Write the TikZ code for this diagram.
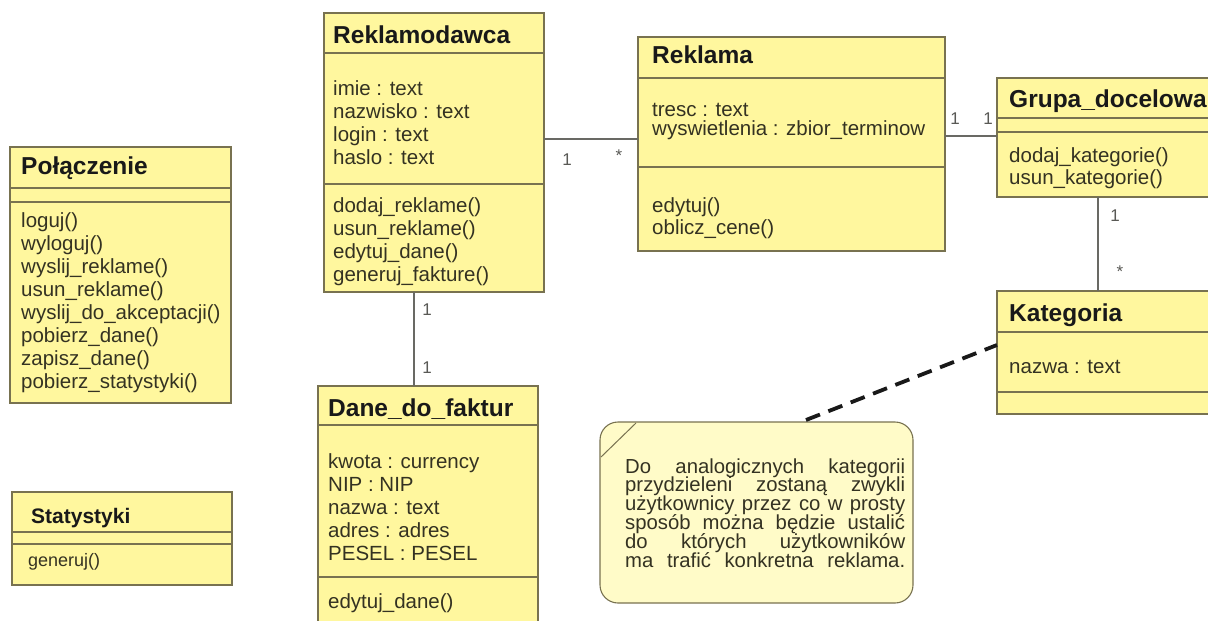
\documentclass[tikz,border=0pt]{standalone}
\usepackage{fontspec}
\setmainfont{Liberation Sans}
\definecolor{clsfill}{RGB}{255,247,158}
\definecolor{notefill}{RGB}{255,251,200}
\definecolor{clsdraw}{RGB}{120,114,80}
\definecolor{txt}{RGB}{52,50,34}
\definecolor{conn}{RGB}{105,105,100}
\tikzset{
 classbox/.style={draw=clsdraw, fill=clsfill, line width=1.3pt, rectangle, inner sep=0pt, outer sep=0pt, anchor=north west},
 notebox/.style={draw=clsdraw, fill=notefill, line width=1.1pt, rectangle, rounded corners=18pt, inner sep=0pt, outer sep=0pt, anchor=north west},
 sepline/.style={draw=clsdraw, line width=1.3pt},
 ctitle/.style={anchor=base west, inner sep=0pt, font=\fontsize{24.5}{26}\selectfont\bfseries, text=black!90},
 stitle/.style={anchor=base west, inner sep=0pt, font=\fontsize{21}{23}\selectfont\bfseries, text=black!90},
 cline/.style={anchor=base west, inner sep=0pt, font=\fontsize{20.5}{22}\selectfont, text=txt},
 sline/.style={anchor=base west, inner sep=0pt, font=\fontsize{18}{20}\selectfont, text=txt},
 nline/.style={anchor=base west, inner sep=0pt, font=\fontsize{20.3}{20}\selectfont, text=txt},
 mult/.style={inner sep=0pt, font=\fontsize{17}{18}\selectfont, text=conn!85!black},
 assoc/.style={draw=conn, line width=1.1pt},
 notelink/.style={draw=black!90, line width=3.8pt, dash pattern=on 15pt off 9pt},
}
\begin{document}
\begin{tikzpicture}[x=1pt,y=-1pt]
\useasboundingbox (0,0) rectangle (1208,621);
\clip (0,0) rectangle (1208,621);
\fill[white] (0,0) rectangle (1208,621);

% ---------- Polaczenie ----------
\node[classbox, minimum width=221pt, minimum height=256pt] (pol) at (10,147) {};
\draw[sepline] (10,188) -- (231,188);
\draw[sepline] (10,202) -- (231,202);
\node[ctitle] (pol-t) at (21,174) {Połączenie};
\foreach \t [count=\i from 0] in {loguj(), wyloguj(), wyslij\_reklame(), usun\_reklame(), wyslij\_do\_akceptacji(), pobierz\_dane(), zapisz\_dane(), pobierz\_statystyki()}
  \node[cline] (pol-m\i) at (21,{227+23*\i}) {\t};

% ---------- Statystyki ----------
\node[classbox, minimum width=220pt, minimum height=93pt] (stat) at (12,492) {};
\draw[sepline] (12,532) -- (232,532);
\draw[sepline] (12,544) -- (232,544);
\node[stitle] (stat-t) at (31,523) {Statystyki};
\node[sline] (stat-m0) at (28,566) {generuj()};

% ---------- Reklamodawca ----------
\node[classbox, minimum width=220pt, minimum height=279pt] (rekd) at (324,13) {};
\draw[sepline] (324,53) -- (544,53);
\draw[sepline] (324,184) -- (544,184);
\node[ctitle] (rekd-t) at (333,43) {Reklamodawca};
\foreach \t [count=\i from 0] in {imie : text, nazwisko : text, login : text, haslo : text}
  \node[cline] (rekd-a\i) at (333,{95+23*\i}) {\t};
\foreach \t [count=\i from 0] in {dodaj\_reklame(), usun\_reklame(), edytuj\_dane(), generuj\_fakture()}
  \node[cline] (rekd-m\i) at (333,{212+23*\i}) {\t};

% ---------- Reklama ----------
\node[classbox, minimum width=307pt, minimum height=214pt] (rekl) at (638,37) {};
\draw[sepline] (638,78) -- (945,78);
\draw[sepline] (638,167) -- (945,167);
\node[ctitle] (rekl-t) at (652,63) {Reklama};
\node[cline] (rekl-a0) at (652,116) {tresc : text};
\node[cline] (rekl-a1) at (652,135) {wyswietlenia : zbior\_terminow};
\node[cline] (rekl-m0) at (652,212) {edytuj()};
\node[cline] (rekl-m1) at (652,234) {oblicz\_cene()};

% ---------- Grupa_docelowa ----------
\node[classbox, minimum width=230pt, minimum height=119pt] (grp) at (997,78) {};
\draw[sepline] (997,118) -- (1227,118);
\draw[sepline] (997,132) -- (1227,132);
\node[ctitle] (grp-t) at (1009,107) {Grupa\_docelowa};
\node[cline] (grp-m0) at (1009,162) {dodaj\_kategorie()};
\node[cline] (grp-m1) at (1009,184) {usun\_kategorie()};

% ---------- Kategoria ----------
\node[classbox, minimum width=230pt, minimum height=123pt] (kat) at (997,291) {};
\draw[sepline] (997,332) -- (1227,332);
\draw[sepline] (997,392) -- (1227,392);
\node[ctitle] (kat-t) at (1009,321) {Kategoria};
\node[cline] (kat-a0) at (1009,373) {nazwa : text};

% ---------- Dane_do_faktur ----------
\node[classbox, minimum width=220pt, minimum height=250pt] (dane) at (318,386) {};
\draw[sepline] (318,425) -- (538,425);
\draw[sepline] (318,577) -- (538,577);
\node[ctitle] (dane-t) at (328,416) {Dane\_do\_faktur};
\foreach \t [count=\i from 0] in {kwota : currency, NIP : NIP, nazwa : text, adres : adres, PESEL : PESEL}
  \node[cline] (dane-a\i) at (328,{468+23*\i}) {\t};
\node[cline] (dane-m0) at (328,608) {edytuj\_dane()};

% ---------- Note ----------
\node[notebox, minimum width=313pt, minimum height=181pt] (note) at (600,422) {};
\draw[draw=clsdraw, line width=1pt] (601,457) -- (636,423);
\foreach \t [count=\i from 0] in {Do analogicznych kategorii, przydzieleni zostaną zwykli, użytkownicy przez co w prosty, sposób można będzie ustalić, do których użytkowników, ma trafić konkretna reklama.}
  \node[nline] (note-l\i) at (625,{473+18.8*\i}) {\makebox[280pt][s]{\t}};

% ---------- Connectors ----------
\draw[assoc] (rekd.east |- 0,139) -- (rekl.west |- 0,139);
\node[mult] (m1) at (567,160) {1};
\node[mult] (m2) at (619,156) {*};

\draw[assoc] (rekl.east |- 0,136) -- (grp.west |- 0,136);
\node[mult] (m3) at (955,119) {1};
\node[mult] (m4) at (988,119) {1};

\draw[assoc] (grp.south -| 1098,0) -- (kat.north -| 1098,0);
\node[mult] (m5) at (1115,216) {1};
\node[mult] (m6) at (1120,272) {*};

\draw[assoc] (rekd.south -| 414,0) -- (dane.north -| 414,0);
\node[mult] (m7) at (427,310) {1};
\node[mult] (m8) at (427,368) {1};

\coordinate (nt) at (806,420);
\coordinate (kl) at (997,345);
\draw[notelink] (nt) -- (kl);
\end{tikzpicture}
\end{document}
